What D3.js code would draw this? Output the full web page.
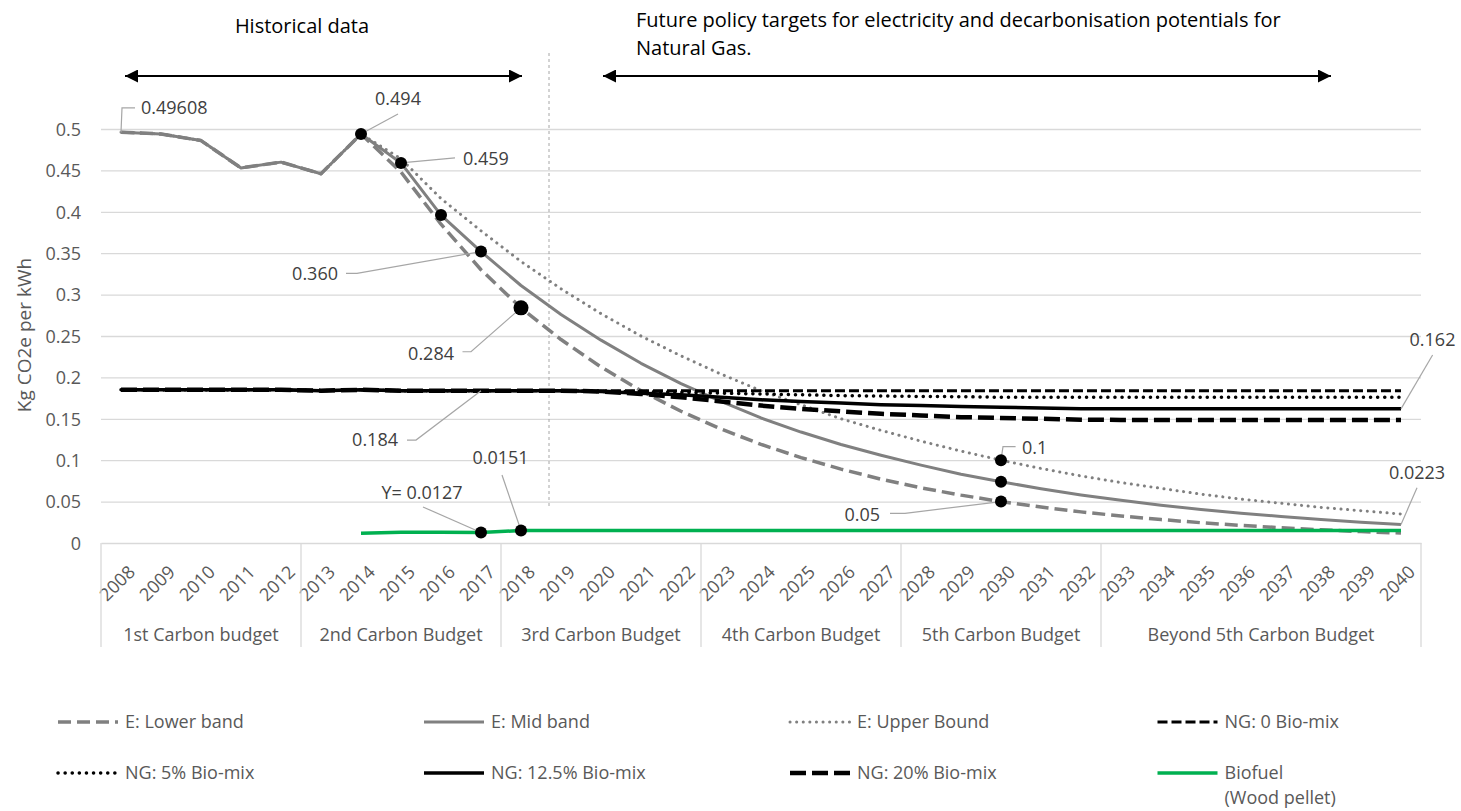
<!DOCTYPE html>
<html><head><meta charset="utf-8">
<script src="https://cdn.jsdelivr.net/npm/d3@7"></script>
<style>
body{margin:0;background:#fff;}
text{font-family:"Open Sans",sans-serif;}
</style>
</head><body>
<svg id="chart" width="1461" height="811"></svg>
<script>
// ---------------- DATA ----------------
const years = [2008,2009,2010,2011,2012,2013,2014,2015,2016,2017,2018,2019,2020,2021,2022,2023,2024,2025,2026,2027,2028,2029,2030,2031,2032,2033,2034,2035,2036,2037,2038,2039,2040];

const groupLabels = ["1st Carbon budget","2nd Carbon Budget","3rd Carbon Budget","4th Carbon Budget","5th Carbon Budget","Beyond 5th Carbon Budget"];
const groupFirstYear = [2008,2013,2018,2023,2028,2033];
const groupLastYear  = [2012,2017,2022,2027,2032,2040];

const yTicks = [0,0.05,0.1,0.15,0.2,0.25,0.3,0.35,0.4,0.45,0.5];
const yTickLabels = ["0","0.05","0.1","0.15","0.2","0.25","0.3","0.35","0.4","0.45","0.5"];

const eLower = [0.49608,0.494,0.486,0.453,0.460,0.446,0.494,0.448,0.385,0.330,0.284,0.2457,0.2126,0.1839,0.1591,0.1377,0.1191,0.1031,0.0892,0.0771,0.0667,0.0578,0.050,0.0434,0.0376,0.0326,0.0283,0.0245,0.0213,0.0184,0.016,0.0138,0.012];
const eMid   = [0.49608,0.494,0.486,0.453,0.460,0.446,0.494,0.459,0.396,0.352,0.311,0.276,0.245,0.217,0.1925,0.171,0.151,0.134,0.119,0.106,0.094,0.083,0.074,0.0655,0.058,0.0515,0.0457,0.0405,0.036,0.032,0.0283,0.0251,0.0223];
const eUpper = [0.49608,0.494,0.486,0.453,0.460,0.446,0.494,0.464,0.416,0.377,0.340,0.307,0.277,0.250,0.226,0.204,0.184,0.167,0.150,0.136,0.123,0.111,0.100,0.090,0.081,0.073,0.066,0.059,0.053,0.048,0.043,0.039,0.035];
const ng0    = [0.185,0.185,0.185,0.185,0.185,0.184,0.185,0.184,0.184,0.184,0.184,0.184,0.184,0.184,0.184,0.184,0.184,0.184,0.184,0.184,0.184,0.184,0.184,0.184,0.184,0.184,0.184,0.184,0.184,0.184,0.184,0.184,0.184];
const ng5    = [0.185,0.185,0.185,0.185,0.185,0.184,0.185,0.184,0.184,0.184,0.184,0.184,0.183,0.183,0.182,0.181,0.180,0.179,0.178,0.1775,0.177,0.1767,0.176,0.176,0.176,0.176,0.176,0.176,0.176,0.176,0.176,0.176,0.176];
const ng125  = [0.185,0.185,0.185,0.185,0.185,0.184,0.185,0.184,0.184,0.184,0.184,0.184,0.183,0.181,0.179,0.176,0.173,0.171,0.169,0.167,0.166,0.165,0.164,0.163,0.162,0.162,0.162,0.162,0.162,0.162,0.162,0.162,0.162];
const ng20   = [0.185,0.185,0.185,0.185,0.185,0.184,0.185,0.184,0.184,0.184,0.184,0.184,0.183,0.180,0.176,0.171,0.166,0.162,0.159,0.156,0.154,0.152,0.151,0.150,0.149,0.1486,0.1486,0.1486,0.1486,0.1486,0.1486,0.1486,0.1486];
const biofuel= [null,null,null,null,null,null,0.0117,0.013,0.013,0.0127,0.0151,0.0151,0.0151,0.0151,0.0151,0.0151,0.0151,0.0151,0.0151,0.0151,0.0151,0.0151,0.0151,0.0151,0.0151,0.0151,0.0151,0.0151,0.0151,0.0151,0.0151,0.0151,0.0151];

const seriesNames = ["E: Lower band","E: Mid band","E: Upper Bound","NG: 0 Bio-mix","NG: 5% Bio-mix","NG: 12.5% Bio-mix","NG: 20% Bio-mix","Biofuel"];
const seriesValues = [eLower,eMid,eUpper,ng0,ng5,ng125,ng20,biofuel];

const headerLeft = "Historical data";
const headerRight = ["Future policy targets for electricity and decarbonisation potentials for","Natural Gas."];
const yTitle = "Kg CO2e per kWh";

// annotated points: series index, year, label
const labelSeries = [1,1,1,1,0,3,7,7,2,0,5,1];
const labelYears  = [2008,2014,2015,2017,2018,2017,2017,2018,2030,2030,2040,2040];
const labelTexts  = ["0.49608","0.494","0.459","0.360","0.284","0.184","Y= 0.0127","0.0151","0.1","0.05","0.162","0.0223"];
// marker dots: series index, year
const dotSeries = [1,1,1,1,0,7,7,2,1,0];
const dotYears  = [2014,2015,2016,2017,2018,2017,2018,2030,2030,2030];

// ---------------- STYLES / LAYOUT ----------------
const styles = [
  {color:"#808080", w:3.5, dash:"13,6", cap:"butt"},
  {color:"#808080", w:3,   dash:null,   cap:"butt"},
  {color:"#808080", w:3,   dash:"0.1,6.5", cap:"round"},
  {color:"#000000", w:3,   dash:"10,4", cap:"butt"},
  {color:"#000000", w:3.5, dash:"0.1,7", cap:"round"},
  {color:"#000000", w:3.5, dash:null,   cap:"butt"},
  {color:"#000000", w:4.5, dash:"16,6", cap:"butt"},
  {color:"#00b050", w:3.5, dash:null,   cap:"butt"}
];
const labelLayout = [
  {lead:[[1,-24.3],[14,-24.3]], t:[20,-24.3], a:"start"},
  {lead:[[37,-20]], t:[37,-35], a:"middle"},
  {lead:[[54,-5]], t:[62,-4], a:"start"},
  {lead:[[-124,21.8],[-135,21.8]], t:[-143,22.5], a:"end"},
  {lead:[[-50,43.9],[-58.5,43.9]], t:[-67,45.5], a:"end"},
  {lead:[[-65,49.4],[-74,49.4]], t:[-83,49.4], a:"end"},
  {lead:[[-58,-25.5]], t:[-59,-39.8], a:"middle"},
  {lead:[[-19,-55.5]], t:[-20.5,-72.5], a:"middle"},
  {lead:[[2,-13.5],[14.6,-13.5]], t:[21,-12.2], a:"start"},
  {lead:[[-96,11.7],[-111,11.7]], t:[-121,13.4], a:"end"},
  {lead:[[31.6,-53.9]], t:[31.5,-68.9], a:"middle"},
  {lead:[[16,-36.8]], t:[16,-51.8], a:"middle"}
];
const dotRadius = [6,6,6,6,7.5,6,6,6,6,6];

const svg = d3.select("#chart");
svg.append("rect").attr("width",1461).attr("height",811).attr("fill","#fff");

const plotL = 101, plotR = 1421, plotT = 129, plotB = 543;
const x = d3.scaleBand().domain(years).range([plotL, plotR]);
const cx = yr => x(yr) + x.bandwidth()/2;
const y = d3.scaleLinear().domain([0,0.5]).range([plotB, plotT]);

// gridlines
const grid = svg.append("g").attr("transform",`translate(${plotL},0)`)
  .call(d3.axisLeft(y).tickValues(yTicks.slice(1)).tickSize(-(plotR-plotL)).tickFormat(""));
grid.select(".domain").remove();
grid.selectAll("line").attr("stroke","#d9d9d9").attr("stroke-width",1.3);

// y axis labels
const yAx = svg.append("g").attr("transform",`translate(${plotL-20},0)`)
  .call(d3.axisLeft(y).tickValues(yTicks).tickSize(0).tickFormat((d,i)=>yTickLabels[i]));
yAx.select(".domain").remove();
yAx.selectAll("text").attr("fill","#595959").style("font-size","18px").style("font-family","Open Sans").attr("x",0).attr("dy","0.35em");

// y title
svg.append("text").attr("transform",`translate(24,335) rotate(-90)`).attr("text-anchor","middle")
  .attr("dy","0.35em").attr("fill","#595959").style("font-size","19px").text(yTitle);

// x axis
const xAx = svg.append("g").attr("transform",`translate(0,${plotB})`)
  .call(d3.axisBottom(x).tickSize(0).tickFormat(d=>d));
xAx.select(".domain").attr("stroke","#d9d9d9").attr("stroke-width",1.3);
xAx.selectAll("text")
  .attr("fill","#595959").style("font-size","18px").style("font-family","Open Sans")
  .attr("text-anchor","end").attr("dy","0.72em").attr("y",0)
  .attr("transform",`translate(${x.bandwidth()/2+6},21) rotate(-45)`);
xAx.selectAll(".tick").attr("transform",d=>`translate(${x(d)},0)`);

// group separators and labels
const sepX = [plotL, ...groupLastYear.map(g=>x(g)+x.bandwidth())];
svg.append("g").selectAll("line").data(sepX).join("line")
  .attr("x1",d=>d).attr("x2",d=>d).attr("y1",plotB).attr("y2",647)
  .attr("stroke","#d9d9d9").attr("stroke-width",1.3);
svg.append("g").selectAll("text").data(groupLabels).join("text")
  .attr("x",(d,i)=>(x(groupFirstYear[i]) + x(groupLastYear[i]) + x.bandwidth())/2)
  .attr("y",635).attr("dy","0.35em").attr("text-anchor","middle")
  .attr("fill","#595959").style("font-size","18px").text(d=>d);

// vertical dashed line
svg.append("line").attr("x1",549).attr("x2",549).attr("y1",53).attr("y2",508)
  .attr("stroke","#a6a6a6").attr("stroke-width",1).attr("stroke-dasharray","3,3");

// series lines
const line = d3.line().defined(d=>d.v!=null).x(d=>cx(d.yr)).y(d=>y(d.v));
seriesValues.forEach((vals,i)=>{
  const st = styles[i];
  svg.append("path").datum(years.map((yr,j)=>({yr,v:vals[j]})))
    .attr("d",line).attr("fill","none").attr("stroke",st.color).attr("stroke-width",st.w)
    .attr("stroke-dasharray",st.dash).attr("stroke-linecap",st.cap).attr("stroke-linejoin","round");
});

// leaders + labels
const val = (s,yr) => seriesValues[s][years.indexOf(yr)];
labelTexts.forEach((t,i)=>{
  const px = cx(labelYears[i]), py = y(val(labelSeries[i],labelYears[i]));
  const L = labelLayout[i];
  const pts = [[px,py], ...L.lead.map(p=>[px+p[0],py+p[1]])];
  svg.append("path").attr("d",d3.line()(pts)).attr("fill","none").attr("stroke","#a6a6a6").attr("stroke-width",1.2);
  svg.append("text").attr("x",px+L.t[0]).attr("y",py+L.t[1]).attr("dy","0.35em")
    .attr("text-anchor",L.a).attr("fill","#404040").style("font-size","18px").text(t);
});

// dots
dotYears.forEach((yr,i)=>{
  svg.append("circle").attr("cx",cx(yr)).attr("cy",y(val(dotSeries[i],yr))).attr("r",dotRadius[i]).attr("fill","#000");
});

// header texts & arrows
const defs = svg.append("defs");
defs.append("marker").attr("id","ah").attr("markerUnits","userSpaceOnUse")
  .attr("markerWidth",14).attr("markerHeight",13).attr("refX",13).attr("refY",6.5)
  .attr("orient","auto-start-reverse")
  .append("path").attr("d","M0,0 L13,6.5 L0,13 Z").attr("fill","#000");
[[125,522],[603,1331]].forEach(a=>{
  svg.append("line").attr("x1",a[0]).attr("x2",a[1]).attr("y1",76).attr("y2",76)
    .attr("stroke","#000").attr("stroke-width",2)
    .attr("marker-start","url(#ah)").attr("marker-end","url(#ah)");
});
svg.append("text").attr("x",302).attr("y",33).attr("text-anchor","middle").attr("fill","#000").style("font-size","20px").text(headerLeft);
headerRight.forEach((t,i)=>{
  svg.append("text").attr("x",636).attr("y",27+28*i).attr("fill","#000").style("font-size","20px").text(t);
});

// legend
const legCols = [58,424,790,1157.5], legRows = [722,773];
seriesNames.forEach((n,i)=>{
  const lx = legCols[i%4], ly = legRows[Math.floor(i/4)];
  const st = styles[i];
  svg.append("line").attr("x1",lx).attr("x2",lx+60).attr("y1",ly).attr("y2",ly)
    .attr("stroke",st.color).attr("stroke-width",st.w).attr("stroke-dasharray",st.dash).attr("stroke-linecap",st.cap);
  svg.append("text").attr("x",lx+67).attr("y",ly).attr("dy","0.35em").attr("fill","#595959").style("font-size","18px").text(n);
  if(i===7){
    svg.append("text").attr("x",lx+67).attr("y",ly+25).attr("dy","0.35em").attr("fill","#595959").style("font-size","18px").text("(Wood pellet)");
  }
});
</script>
</body></html>
